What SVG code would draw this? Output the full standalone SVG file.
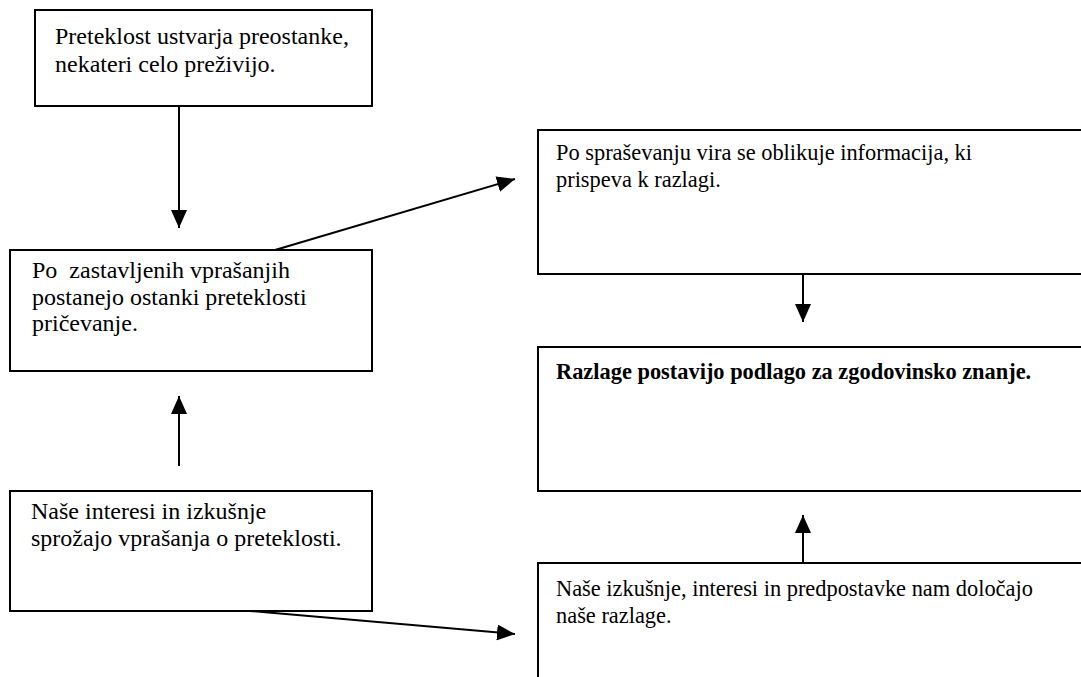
<svg xmlns="http://www.w3.org/2000/svg" width="1081" height="677" viewBox="0 0 1081 677">
<defs>
<style>
.box{fill:#fff;stroke:#000;stroke-width:2}
.t{font-family:"Liberation Serif","Times New Roman",serif;font-size:24px;fill:#000}
.r{font-size:22.4px}
.b{font-weight:bold}
.c{stroke:#000;stroke-width:2;fill:none}
</style>
<marker id="ah" markerUnits="userSpaceOnUse" markerWidth="18" markerHeight="16" refX="18" refY="8" orient="auto">
<path d="M0,0 L18,8 L0,16 z" fill="#000"/>
</marker>
</defs>
<rect width="1081" height="677" fill="#fff"/>
<g id="n1">
<rect class="box" x="35" y="10" width="337" height="96"/>
<text class="t" x="55" y="44">Preteklost ustvarja preostanke,</text>
<text class="t" x="55" y="72">nekateri celo preživijo.</text>
</g>
<g id="n2">
<rect class="box" x="10" y="250" width="362" height="121"/>
<text class="t" x="32" y="278" xml:space="preserve">Po  zastavljenih vprašanjih</text>
<text class="t" x="32" y="305">postanejo ostanki preteklosti</text>
<text class="t" x="32" y="331">pričevanje.</text>
</g>
<g id="n3">
<rect class="box" x="10" y="491" width="362" height="120"/>
<text class="t" x="31" y="519">Naše interesi in izkušnje</text>
<text class="t" x="31" y="546">sprožajo vprašanja o preteklosti.</text>
</g>
<g id="n4">
<rect class="box" x="538" y="130" width="560" height="144"/>
<text class="t r" x="556" y="160">Po spraševanju vira se oblikuje informacija, ki</text>
<text class="t r" x="556" y="187">prispeva k razlagi.</text>
</g>
<g id="n5">
<rect class="box" x="538" y="347" width="560" height="144"/>
<text class="t r b" x="556" y="379">Razlage postavijo podlago za zgodovinsko znanje.</text>
</g>
<g id="n6">
<rect class="box" x="538" y="563" width="560" height="140"/>
<text class="t r" x="556" y="596">Naše izkušnje, interesi in predpostavke nam določajo</text>
<text class="t r" x="556" y="623">naše razlage.</text>
</g>
<g id="connectors">
<line class="c" x1="179" y1="106" x2="179" y2="228" marker-end="url(#ah)"/>
<line class="c" x1="179" y1="466" x2="179" y2="396" marker-end="url(#ah)"/>
<line class="c" x1="275" y1="250" x2="515" y2="179" marker-end="url(#ah)"/>
<line class="c" x1="250" y1="611" x2="515" y2="634" marker-end="url(#ah)"/>
<line class="c" x1="803" y1="274" x2="803" y2="322" marker-end="url(#ah)"/>
<line class="c" x1="803" y1="563" x2="803" y2="515" marker-end="url(#ah)"/>
</g>
</svg>
